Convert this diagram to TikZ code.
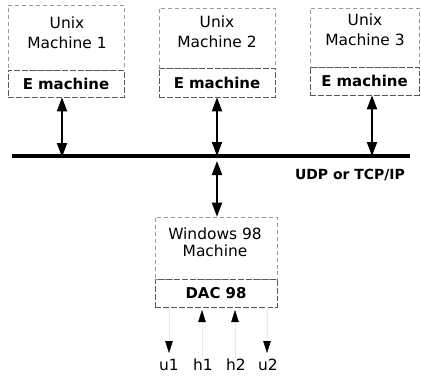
\documentclass[tikz,border=0pt]{standalone}
\usepackage{fontspec}
\setmainfont{DejaVu Sans}
\usetikzlibrary{arrows.meta,positioning}
\begin{document}
\begin{tikzpicture}[x=1bp,y=-1bp,
  boxtop/.style={draw=black!40,dashed,dash pattern=on 4pt off 3pt,line width=0.6pt,rectangle,inner sep=0pt},
  boxbot/.style={draw=black!65,dashed,dash pattern=on 6pt off 2pt,line width=0.7pt,rectangle,inner sep=0pt,font=\fontsize{15}{17}\selectfont\bfseries},
  lbl/.style={align=center,font=\fontsize{15.5}{20}\selectfont,inner sep=0pt},
  bigarrow/.style={line width=2bp,{Triangle[length=14bp,width=10bp]}-{Triangle[length=14bp,width=10bp]}},
  smallarrow/.style={line width=0.4pt,draw=black!8,-{Triangle[length=12bp,width=7.5bp,color=black]}},
  bus/.style={line width=3.2bp}]
\useasboundingbox (0,0) rectangle (421,379);
% Unix machines
\node[boxtop,minimum width=116bp,minimum height=65bp] (m1) at (66,37.5) {};
\node[boxbot,minimum width=116bp,minimum height=27bp] (e1) at (66,83.5) {E machine};
\node[lbl] (t1) at (67,32.5) {Unix\\Machine 1};
\node[boxtop,minimum width=116bp,minimum height=60bp] (m2) at (217,38) {};
\node[boxbot,minimum width=116bp,minimum height=29bp] (e2) at (217,82.5) {E machine};
\node[lbl] (t2) at (217,31.5) {Unix\\Machine 2};
\node[boxtop,minimum width=109bp,minimum height=59bp] (m3) at (364.5,37.5) {};
\node[boxbot,minimum width=109bp,minimum height=28bp] (e3) at (364.5,81) {E machine};
\node[lbl] (t3) at (365,30) {Unix\\Machine 3};
% bus
\coordinate (busL) at (12,156);
\coordinate (busR) at (410,156);
\draw[bus] (busL) -- (busR);
\coordinate (b1) at (62,157);
\coordinate (b2) at (217,156);
\coordinate (b3) at (372,156);
\coordinate (b2d) at (217,161);
\node[font=\fontsize{14}{16}\selectfont\bfseries,anchor=base east,inner sep=0pt] (udp) at (405,179) {UDP or TCP/IP};
% Windows
\node[boxtop,minimum width=122bp,minimum height=62bp] (w) at (216,248) {};
\node[boxbot,minimum width=122bp,minimum height=28bp] (dac) at (216,293) {DAC 98};
\node[lbl,font=\fontsize{15.5}{17}\selectfont] (tw) at (215,242) {Windows 98\\Machine};
% arrows
\draw[bigarrow] (e1.south -| b1) -- (b1);
\draw[bigarrow] (e2.south) -- (b2);
\draw[bigarrow] (e3.south -| b3) -- (b3);
\draw[bigarrow] (b2d) -- (w.north -| b2d);
% signals
\node[lbl,anchor=base] (u1) at (169,370) {u1};
\node[lbl,anchor=base] (h1) at (203,370) {h1};
\node[lbl,anchor=base] (h2) at (236,370) {h2};
\node[lbl,anchor=base] (u2) at (268,370) {u2};
\coordinate (h1t) at (202,310);
\coordinate (h2t) at (235,310);
\coordinate (u1e) at (169,353);
\coordinate (u2e) at (267,353);
\draw[smallarrow] (h1t |- h1.north) -- (h1t);
\draw[smallarrow] (h2t |- h2.north) -- (h2t);
\draw[smallarrow] (u1e |- dac.south) -- (u1e);
\draw[smallarrow] (u2e |- dac.south) -- (u2e);
\end{tikzpicture}
\end{document}
